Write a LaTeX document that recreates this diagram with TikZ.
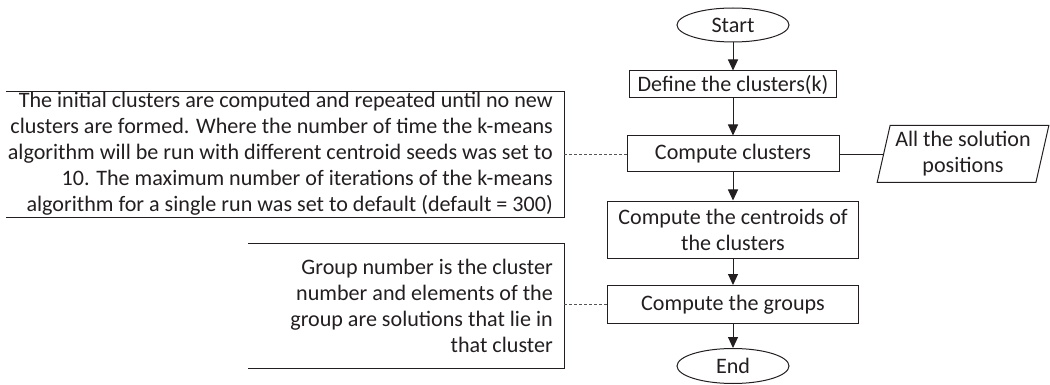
\documentclass[tikz,border=0pt]{standalone}
\usepackage{fontspec}
\setmainfont{Carlito}
\usepackage{tikz}
\usetikzlibrary{arrows.meta,shapes.geometric,positioning}
\definecolor{ink}{HTML}{231F20}
\definecolor{note}{HTML}{555555}
\tikzset{
  proc/.style={draw=ink, line width=1pt, text=ink, align=center, inner sep=0pt},
  term/.style={draw=ink, ellipse, line width=1pt, text=ink, inner sep=0pt,
    minimum width=112pt, minimum height=34pt},
  io/.style={draw=ink, trapezium, trapezium left angle=75, trapezium right angle=105,
    trapezium stretches=true, line width=1pt, text=ink, align=center, inner sep=0pt,
    minimum width=172pt, minimum height=57pt},
  flow/.style={draw=ink, line width=1pt, -{Triangle[width=10pt,length=11pt]}},
  link/.style={draw=ink, line width=0.9pt},
  callout/.style={draw=note, line width=0.8pt, dash pattern=on 3pt off 2pt},
  brak/.style={draw=ink, line width=1pt},
  txt/.style={text=ink, align=right, inner sep=0pt, anchor=east},
}

\begin{document}
\begin{tikzpicture}[x=1pt, y=-1pt, font=\fontsize{22.1}{26}\selectfont]
  \useasboundingbox (0,0) rectangle (1050,385);
  % main flow
  \node[term] (start) at (733,25) {Start};
  \node[proc, minimum width=207pt, minimum height=27pt] (def) at (733,84.5) {Define the clusters(k)};
  \node[proc, minimum width=212pt, minimum height=36pt] (comp) at (733,154) {Compute clusters};
  \node[proc, minimum width=251pt, minimum height=57pt] (cent) at (733,229.5) {Compute the centroids of\\the clusters};
  \node[proc, minimum width=251pt, minimum height=38pt] (grp) at (733,304.5) {Compute the groups};
  \node[term, minimum height=35pt] (end) at (733,366) {End};
  \foreach \a/\b in {start/def,def/comp,comp/cent,cent/grp,grp/end}
    \draw[flow] (\a) -- (\b);
  % input data
  \node[io] (sol) at (963,154) {All the solution\\positions};
  \draw[link] (comp) -- (sol);
  % notes
  \node[txt] (n1) at (553,154) {The initial clusters are computed and repeated until no new\\
    clusters are formed. Where the number of time the k-means\\
    algorithm will be run with different centroid seeds was set to\\
    10. The maximum number of iterations of the k-means\\
    algorithm for a single run was set to default (default = 300)};
  \draw[brak] (6,92) -| (564,217) -- (6,217);
  \coordinate (n1r) at (564,154);
  \draw[callout] (n1r) -- (comp.west);
  \node[txt] (n2) at (553,305.5) {Group number is the cluster\\
    number and elements of the\\
    group are solutions that lie in\\
    that cluster};
  \draw[brak] (248,243) -| (564,368) -- (248,368);
  \coordinate (n2r) at (564,304.5);
  \draw[callout] (n2r) -- (grp.west);
\end{tikzpicture}
\end{document}
